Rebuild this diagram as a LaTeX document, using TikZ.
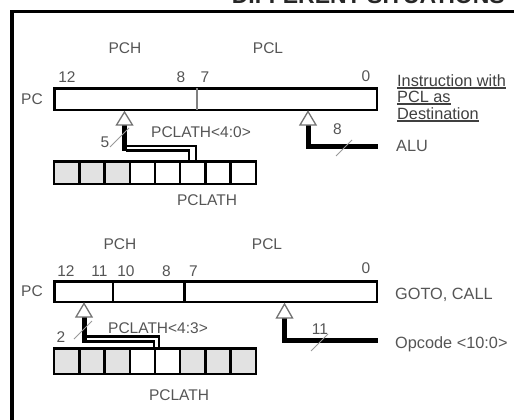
\documentclass[tikz,border=0pt]{standalone}
\usepackage{fontspec}
\setmainfont{Liberation Sans}
\definecolor{txt}{HTML}{555555}
\definecolor{cellgray}{HTML}{E2E2E2}
% underlined caption word: a bar just under the baseline
\newcommand\ulword[1]{\setbox0=\hbox{#1}\rlap{\rule[-2.6pt]{\wd0}{1.8pt}}\box0}
\begin{document}
\begin{tikzpicture}[x=1pt,y=-1pt,
  lbl/.style={inner sep=0pt, text=txt, font=\fontsize{15.5}{18}\selectfont},
  captext/.style={inner sep=0pt, text=txt, font=\fontsize{16.3}{19}\selectfont},
  pcbox/.style={draw=black, line width=2.5pt, rectangle, inner sep=0pt,
                minimum width=322.5pt, minimum height=#1},
  cellbox/.style={draw=black, line width=2.5pt, rectangle, inner sep=0pt,
                  minimum width=25.2pt, minimum height=#1},
  bus/.style={line width=2.3pt},
  thickbus/.style={line width=5pt, line join=miter},
  tri/.style={draw=black!55, line width=1.3pt, fill=white, line join=miter},
  slash/.style={draw=black!40, line width=1pt},
  divider/.style={line width=2.5pt},
]
\useasboundingbox (0,0) rectangle (514,420);

% frame and heading running off the top edge
\node[inner sep=0pt, anchor=base east, text=black!85,
      font=\fontsize{23}{26}\selectfont\bfseries] (title) at (505,4) {DIFFERENT SITUATIONS};
\draw[line width=3.5pt, line join=miter] (12,425) -- (12,11.5) -- (520,11.5);

% ---------------- upper case: instruction with PCL as destination
\node[lbl] (pchA) at (125,48) {PCH};
\node[lbl] (pclA) at (268,48) {PCL};
\node[lbl] (bA12) at (67,77) {12};
\node[lbl] (bA8)  at (181,77) {8};
\node[lbl] (bA7)  at (205,77) {7};
\node[lbl] (bA0)  at (366,76) {0};
\node[lbl] (pcLblA) at (32,99) {PC};
\node[pcbox=21.5pt] (pcA) at (215.5,99) {};
\draw[divider, black!50] (197,88.25) -- (197,109.75);

\foreach \i/\f in {0/cellgray,1/cellgray,2/cellgray,3/white,4/white,5/white,6/white,7/white}
  \node[cellbox=22.5pt, fill=\f] (ra\i) at (66.8+25.2*\i,172.5) {};
\node[lbl] (plA) at (207,200) {PCLATH};

\coordinate (tipA) at (124.5,112);
\coordinate (baseA) at (124.5,125);
\coordinate (turnA) at (124.5,151);
\draw[thickbus] (baseA) -- (turnA);
\draw[bus] (122.5,146) -| ([xshift=3.5pt]ra5.north);
\draw[bus] (126,150.5) -| ([xshift=-3.5pt]ra5.north);
\draw[tri] (tipA) -- ++(-8,13) -- ++(16,0) -- cycle;
\draw[slash] (110,147) -- (129,128);
\node[lbl] (wA) at (105,142) {5};
\node[lbl] (selA) at (201,132) {PCLATH<4:0>};

\coordinate (tipB) at (308,111.5);
\coordinate (baseB) at (308,125);
\coordinate (cornB) at (308,146);
\coordinate (aluEnd) at (378,146);
\draw[thickbus] (baseB) -- (cornB) -- (aluEnd);
\draw[tri] (tipB) -- ++(-8,13.5) -- ++(16,0) -- cycle;
\draw[slash] (336,156) -- (352,140);
\node[lbl] (wB) at (337.5,129) {8};
\node[captext, anchor=west] (alu) at (396,146) {ALU};

\node[captext, anchor=base west, text=black!75] (capA1) at (397,86) {\ulword{Instruction with}};
\node[captext, anchor=base west, text=black!75] (capA2) at (397,102.5) {\ulword{PCL as}};
\node[captext, anchor=base west, text=black!75] (capA3) at (397,119) {\ulword{Destination}};

% ---------------- lower case: GOTO, CALL
\node[lbl] (pchB) at (120,244) {PCH};
\node[lbl] (pclB) at (267,244) {PCL};
\node[lbl] (bB12) at (66,271) {12};
\node[lbl] (bB11) at (99.5,271) {11};
\node[lbl] (bB10) at (126,271) {10};
\node[lbl] (bB8)  at (166.5,271) {8};
\node[lbl] (bB7)  at (193.5,271) {7};
\node[lbl] (bB0)  at (366,268) {0};
\node[lbl] (pcLblB) at (32,291.5) {PC};
\node[pcbox=20.5pt] (pcB) at (215.5,291.5) {};
\draw[divider] (113,281.25) -- (113,301.75);
\draw[divider] (184.5,281.25) -- (184.5,301.75);

\foreach \i/\f in {0/cellgray,1/cellgray,2/cellgray,3/white,4/white,5/cellgray,6/cellgray,7/cellgray}
  \node[cellbox=25.5pt, fill=\f] (rb\i) at (66.8+25.2*\i,361) {};
\node[lbl] (plB) at (179,395) {PCLATH};

\coordinate (tipC) at (84,303.5);
\coordinate (baseC) at (84,317);
\coordinate (turnC) at (84,343);
\draw[thickbus] (baseC) -- (turnC);
\draw[bus] (81.5,336.5) -| ([xshift=2.5pt]rb3.north east);
\draw[bus] (86,341.5) -| ([xshift=-2.5pt]rb3.north east);
\draw[tri] (tipC) -- ++(-8,13.5) -- ++(16,0) -- cycle;
\draw[slash] (74,339) -- (92,321);
\node[lbl] (wC) at (61,337) {2};
\node[lbl] (selB) at (158,328) {PCLATH<4:3>};

\coordinate (tipD) at (284.5,304);
\coordinate (baseD) at (284.5,318);
\coordinate (cornD) at (284.5,340.5);
\coordinate (opEnd) at (378,340.5);
\draw[thickbus] (baseD) -- (cornD) -- (opEnd);
\draw[tri] (tipD) -- ++(-8,14) -- ++(16,0) -- cycle;
\draw[slash] (311,351) -- (328,334);
\node[lbl] (wD) at (320,329) {11};
\node[captext, anchor=west] (gotoLbl) at (395,295) {GOTO, CALL};
\node[captext, anchor=west] (opLbl) at (395,344) {Opcode <10:0>};
\end{tikzpicture}
\end{document}
